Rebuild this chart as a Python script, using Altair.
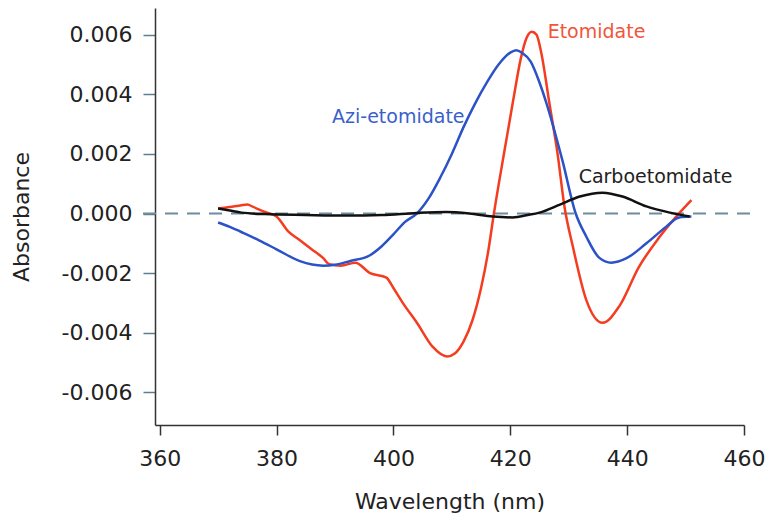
import altair as alt
import pandas as pd

# ---- data ----
eto_nm = [370, 372, 374, 375, 376, 378, 380, 382, 384, 386, 388, 389, 391, 393.5, 396, 398.8,
          400, 401.6, 404, 406.7, 409.2, 410.5, 412, 413.5, 415, 416.2, 417.2, 419, 420.5, 421.8,
          422.8, 423.7, 424.5, 425.3, 426.7, 428.1, 429.3, 430.7, 433, 435.8, 438.7, 442, 445.5,
          449, 451]
eto_abs = [0.00017, 0.00022, 0.00028, 0.0003, 0.00022, 0.00005, -0.0001, -0.0006, -0.0009, -0.0012,
           -0.0015, -0.0017, -0.00175, -0.00165, -0.002, -0.00215, -0.0025, -0.003, -0.00366,
           -0.00447, -0.0048, -0.0047, -0.0043, -0.0036, -0.0025, -0.0013, 0.0, 0.0021, 0.0038,
           0.0052, 0.0059, 0.0061, 0.006, 0.0054, 0.0037, 0.002, 0.0002, -0.0011, -0.0029,
           -0.00367, -0.0031, -0.0018, -0.0008, 0.00003, 0.00045]

azi_nm = [370, 372, 374.3, 377, 380, 384, 388, 390, 392.5, 396, 398, 400, 402, 404, 406, 408, 410,
          412, 414, 416, 418, 420, 421, 422, 423.5, 425, 426.2, 428.9, 431.2, 433, 435.2, 437.3,
          439.9, 443.3, 446.7, 448.9, 451]
azi_abs = [-0.0003, -0.00045, -0.00065, -0.0009, -0.0012, -0.0016, -0.00175, -0.00172, -0.0016,
           -0.0014, -0.0011, -0.0007, -0.00028, 0.0, 0.0005, 0.0012, 0.002, 0.0029, 0.0037, 0.0044,
           0.005, 0.0054, 0.00548, 0.0054, 0.0051, 0.0044, 0.0037, 0.0018, 0.0, -0.00077, -0.00148,
           -0.00165, -0.0015, -0.001, -0.00044, -0.00013, -0.0001]

carbo_nm = [370, 372, 374, 378, 385, 392, 398, 404, 409, 413, 417, 420.4, 423, 425, 428.5, 431.9,
            435.8, 439.2, 443.3, 447.3, 450.7]
carbo_abs = [0.00017, 0.0001, 0.00003, -0.00002, -0.00005, -0.00007, -0.00005, 0.00002, 0.00005,
             0.0, -0.0001, -0.00013, -0.00005, 0.00003, 0.0003, 0.00057, 0.0007, 0.00057, 0.00024,
             0.00003, -0.0001]

series_names = ["Etomidate", "Azi-etomidate", "Carboetomidate"]
series_colors = ["#f43c20", "#2b52c6", "#111111"]
label_colors = ["#f2543a", "#3a5fcc", "#222222"]
label_nm = [426.4, 389.5, 431.7]
label_abs = [0.0061, 0.00323, 0.00121]

x_ticks = [360, 380, 400, 420, 440, 460]
y_ticks = [-0.006, -0.004, -0.002, 0.0, 0.002, 0.004, 0.006]

rows = []
for name, xs, ys in zip(series_names, [eto_nm, azi_nm, carbo_nm], [eto_abs, azi_abs, carbo_abs]):
    for i, (a, b) in enumerate(zip(xs, ys)):
        rows.append({"series": name, "nm": a, "abs": b, "order": i})
df = pd.DataFrame(rows)
labels_df = pd.DataFrame({"series": series_names, "nm": label_nm, "abs": label_abs})

FONT = "DejaVu Sans"
W, H = 589, 417

xscale = alt.Scale(domain=[359.2, 460], nice=False, zero=False)
yscale = alt.Scale(domain=[-0.0071, 0.0069], nice=False, zero=False)

xaxis = alt.Axis(values=x_ticks, format="d", title="Wavelength (nm)", grid=False,
                 domainColor="#333333", domainWidth=1.5, tickColor="#333333", tickWidth=1.5,
                 tickSize=10, labelPadding=13, labelFont=FONT, labelFontSize=22,
                 labelColor="#222222", titleFont=FONT, titleFontSize=22, titleFontWeight="normal",
                 titleColor="#222222", titlePadding=22, labelFlush=False)
yaxis = alt.Axis(values=y_ticks, title="Absorbance", grid=False,
                 labelExpr="(datum.value < 0 ? '-' : '') + format(abs(datum.value), '.3f')",
                 domainColor="#333333", domainWidth=1.5, tickColor="#5f7d8e", tickWidth=1.5,
                 tickSize=12, labelPadding=11, labelFont=FONT, labelFontSize=22,
                 labelColor="#222222", titleFont=FONT, titleFontSize=22, titleFontWeight="normal",
                 titleColor="#222222", titleX=-122, titleY=H / 2, titleAngle=-90,
                 titleAlign="center", titleBaseline="bottom")

zero = alt.Chart(pd.DataFrame({"y": [0.0]})).mark_rule(
    color="#6f8c9c", strokeWidth=2, strokeDash=[13, 9]
).encode(
    x=alt.value(-12), x2=alt.value(W + 10),
    y=alt.Y("y:Q", scale=yscale, axis=yaxis)
)

lines = alt.Chart(df).mark_line(strokeWidth=2.5, interpolate="monotone").encode(
    x=alt.X("nm:Q", scale=xscale, axis=xaxis),
    y=alt.Y("abs:Q", scale=yscale, axis=yaxis),
    color=alt.Color("series:N", scale=alt.Scale(domain=series_names, range=series_colors), legend=None),
    order="order:Q",
)

texts = alt.Chart(labels_df).mark_text(align="left", baseline="middle", font=FONT, fontSize=19).encode(
    x=alt.X("nm:Q", scale=xscale),
    y=alt.Y("abs:Q", scale=yscale),
    text="series:N",
    color=alt.Color("series:N", scale=alt.Scale(domain=series_names, range=label_colors), legend=None),
)

chart = alt.layer(zero, lines, texts).resolve_scale(color="independent").properties(
    width=W, height=H,
    view=alt.ViewBackground(stroke="transparent", strokeWidth=0),
    autosize=alt.AutoSizeParams(type="none"),
    padding={"left": 147, "top": 0, "right": 31, "bottom": 90},
).configure_view(strokeWidth=0, stroke="transparent").configure(background="white")

chart.save("out.html", embed_options={"renderer": "svg", "actions": False})
